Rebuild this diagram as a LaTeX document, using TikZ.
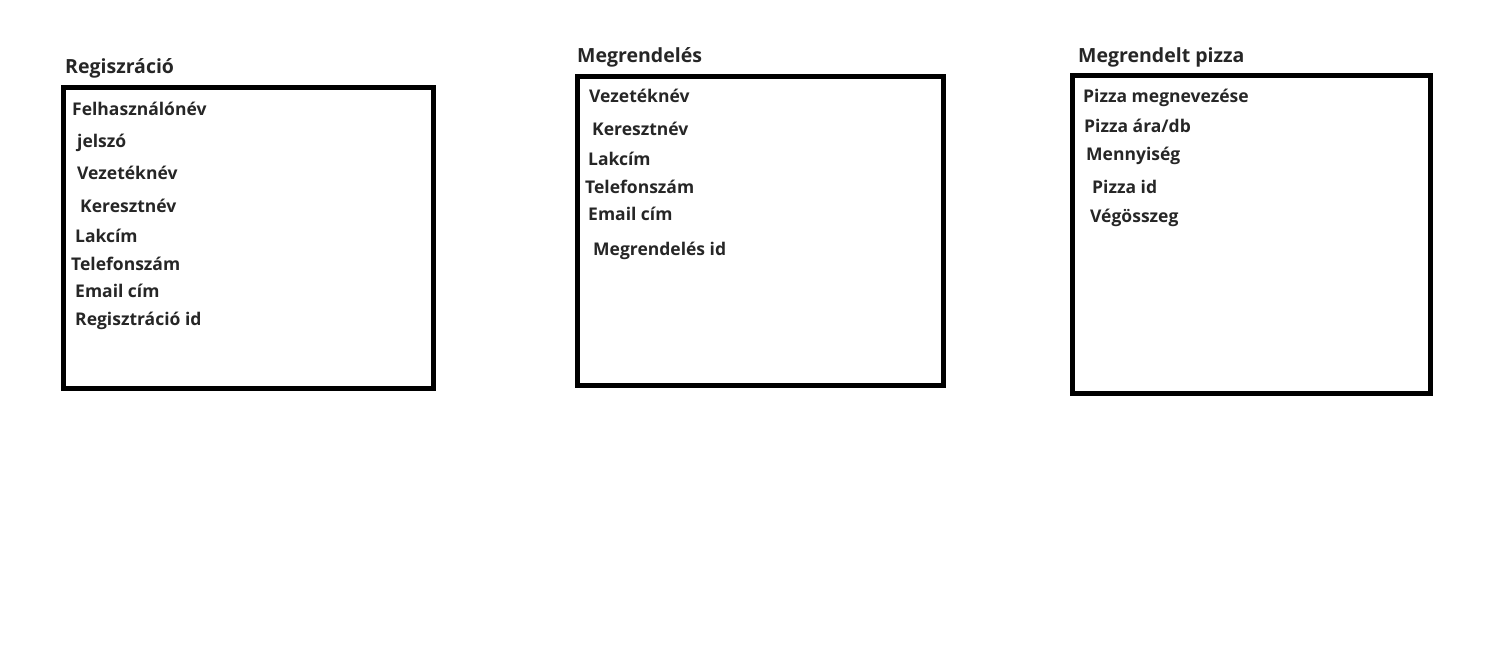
\documentclass[tikz,border=0pt]{standalone}
\usepackage{fontspec}
\setmainfont{Open Sans}
\usetikzlibrary{positioning}

\tikzset{
  tablebox/.style={draw, line width=4.5pt, inner sep=0pt, anchor=north west},
  tabtitle/.style={anchor=base west, inner sep=0pt, font=\fontsize{19.5}{23}\selectfont\bfseries, text=black!85},
  field/.style={anchor=base west, inner sep=0pt, font=\fontsize{17.5}{21}\selectfont\bfseries, text=black!85}
}

\begin{document}
\begin{tikzpicture}[x=1pt, y=-1pt]
    \useasboundingbox (0,0) rectangle (1485,661);

    % Boxes
    \node[tablebox, minimum width=370pt, minimum height=301pt] (regbox) at (61,85) {};
    \node[tablebox, minimum width=366pt, minimum height=309pt] (rendbox) at (575,74) {};
    \node[tablebox, minimum width=358pt, minimum height=318pt] (pizzabox) at (1070,73) {};

    % Titles
    \node[tabtitle] (regtitle) at (65,74) {Regiszráció};
    \node[tabtitle] (rendtitle) at (577,63) {Megrendelés};
    \node[tabtitle] (pizzatitle) at (1078,63) {Megrendelt pizza};

    % Regisztracio fields
    \node[field] (reg1) at (72,115) {Felhasználónév};
    \node[field] (reg2) at (77,147) {jelszó};
    \node[field] (reg3) at (77,179) {Vezetéknév};
    \node[field] (reg4) at (80,212) {Keresztnév};
    \node[field] (reg5) at (75,242) {Lakcím};
    \node[field] (reg6) at (71,270) {Telefonszám};
    \node[field] (reg7) at (75,297) {Email cím};
    \node[field] (reg8) at (75,325) {Regisztráció id};

    % Megrendeles fields
    \node[field] (rend1) at (589,102) {Vezetéknév};
    \node[field] (rend2) at (592,135) {Keresztnév};
    \node[field] (rend3) at (588,165) {Lakcím};
    \node[field] (rend4) at (585,193) {Telefonszám};
    \node[field] (rend5) at (588,220) {Email cím};
    \node[field] (rend6) at (593,255) {Megrendelés id};

    % Megrendelt pizza fields
    \node[field] (pizza1) at (1083,102) {Pizza megnevezése};
    \node[field] (pizza2) at (1084,132) {Pizza ára/db};
    \node[field] (pizza3) at (1086,160) {Mennyiség};
    \node[field] (pizza4) at (1092,193) {Pizza id};
    \node[field] (pizza5) at (1090,222) {Végösszeg};
\end{tikzpicture}
\end{document}
